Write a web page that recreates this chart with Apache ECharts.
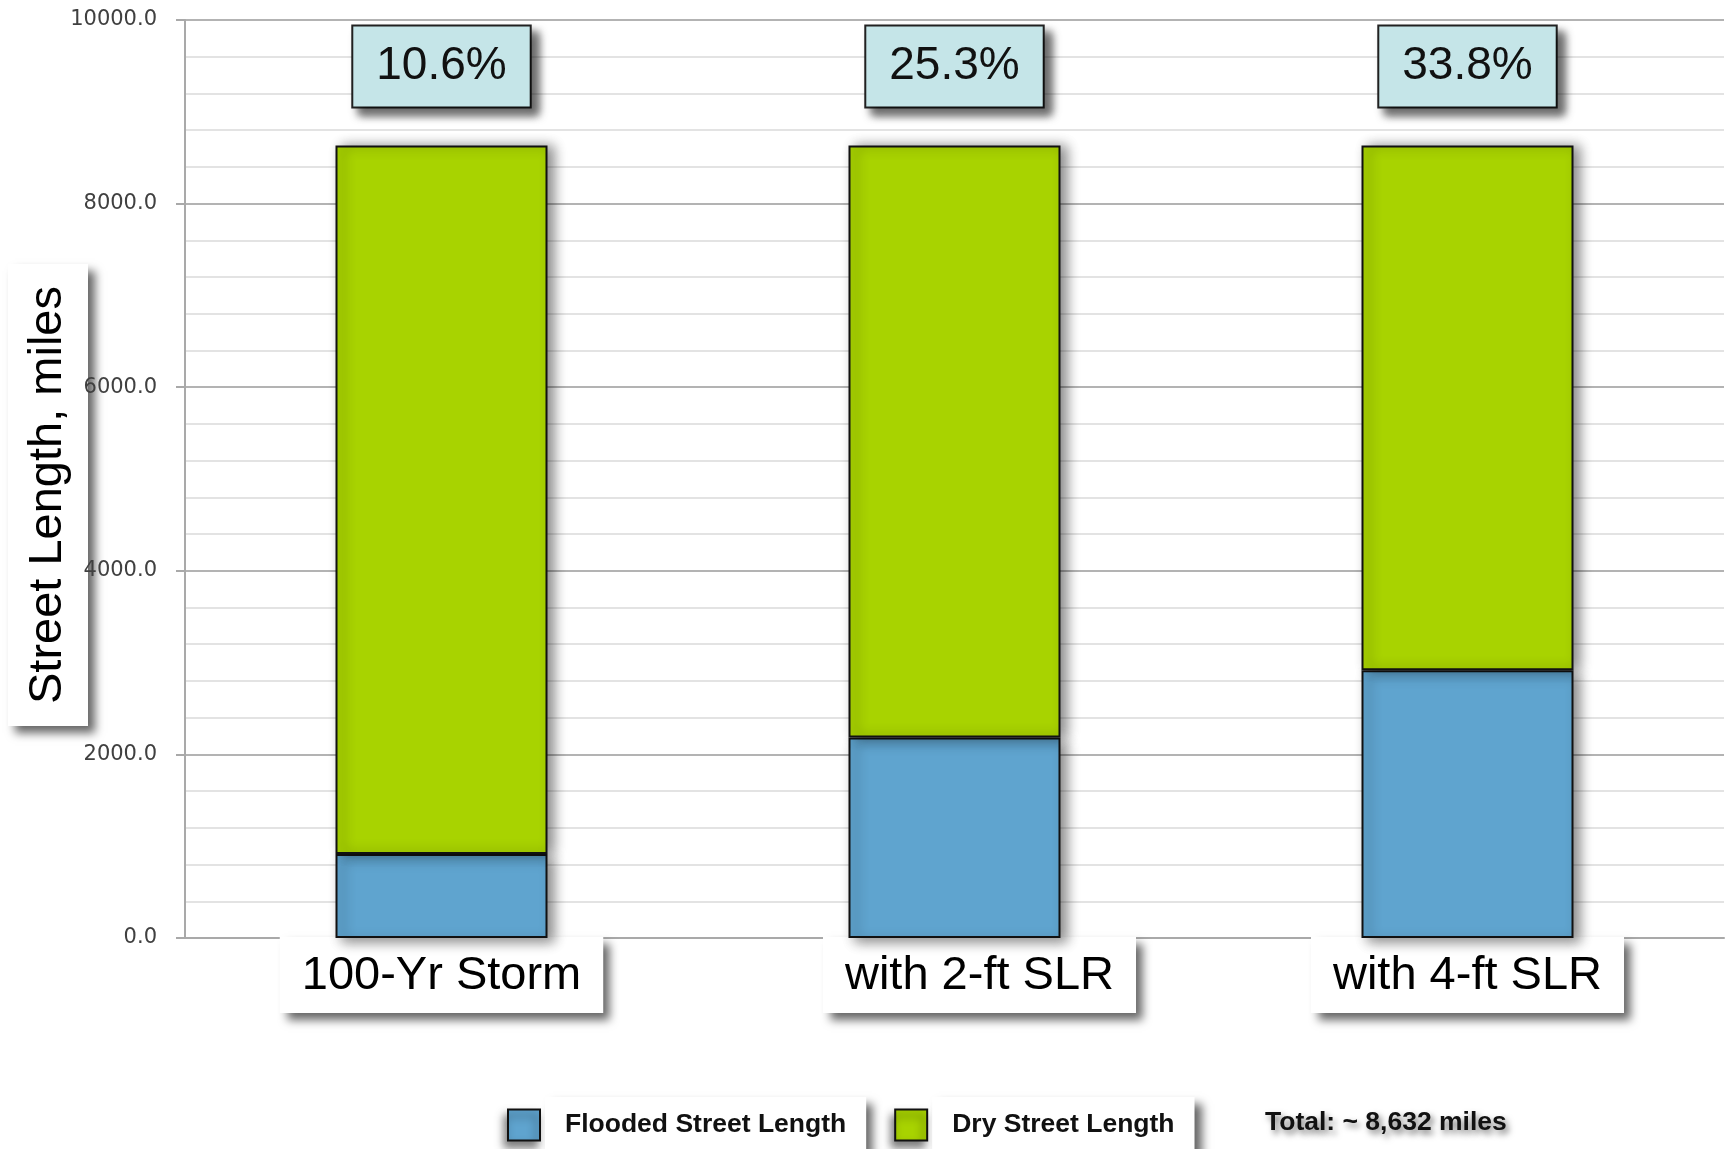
<!DOCTYPE html>
<html>
<head>
<meta charset="utf-8">
<title>Street Length, miles</title>
<script src="https://cdn.jsdelivr.net/npm/echarts@6/dist/echarts.min.js"></script>
<style>
  html, body { margin: 0; padding: 0; background: #ffffff; }
  #chart { width: 1732px; height: 1149px; }
</style>
</head>
<body>
<div id="chart"></div>
<script>
// Scenarios along the x axis
const categories = ['100-Yr Storm', 'with 2-ft SLR', 'with 4-ft SLR'];
// Street length per scenario, miles
const floodedMiles = [915, 2184, 2918];
const dryMiles = [7717, 6448, 5714];
// Value axis range and step
const yMin = 0;
const yMax = 10000;
const yStep = 2000;
const totalNote = 'Total: ~ 8,632 miles';

const BLUE = '#5fa4cf';
const GREEN = '#a8d300';
const SANS = '"Liberation Sans", Arial, Helvetica, sans-serif';
const boxShadow = {
  shadowColor: 'rgba(0,0,0,0.6)',
  shadowBlur: 9,
  shadowOffsetX: 7,
  shadowOffsetY: 7
};

function floodedShare(i) {
  return (100 * floodedMiles[i] / (floodedMiles[i] + dryMiles[i])).toFixed(1) + '%';
}

const chart = echarts.init(document.getElementById('chart'), null, { renderer: 'canvas' });

chart.setOption({
  backgroundColor: '#ffffff',
  animation: false,
  grid: { left: 185, right: 8, top: 20, bottom: 211, outerBoundsMode: 'none', containLabel: false },
  title: {
    text: totalNote,
    left: 1265,
    top: 1109,
    padding: 0,
    textStyle: {
      fontFamily: SANS,
      fontSize: 26.5,
      fontWeight: 'bold',
      color: '#111',
      textShadowColor: 'rgba(0,0,0,0.55)',
      textShadowBlur: 6,
      textShadowOffsetX: 3,
      textShadowOffsetY: 4
    }
  },
  legend: {
    left: 507,
    top: 1097,
    icon: 'rect',
    itemWidth: 32,
    itemHeight: 31,
    itemGap: 28,
    padding: 0,
    selectedMode: false,
    itemStyle: {
      borderColor: '#111',
      borderWidth: 2,
      shadowColor: 'rgba(0,0,0,0.5)',
      shadowBlur: 8,
      shadowOffsetX: -3,
      shadowOffsetY: 6
    },
    textStyle: Object.assign({
      fontFamily: SANS,
      fontSize: 26.5,
      fontWeight: 'bold',
      color: '#111',
      backgroundColor: '#ffffff',
      lineHeight: 32,
      padding: [12, 20, 12, 20]
    }, boxShadow),
    data: ['Flooded Street Length', 'Dry Street Length']
  },
  xAxis: {
    type: 'category',
    data: categories,
    axisLine: { show: true, lineStyle: { color: '#a9a9a9', width: 2 } },
    axisTick: { show: false },
    splitLine: { show: false },
    axisLabel: {
      margin: 9,
      formatter: (v, i) => (i === 1 ? '{gap| }' : '') + '{box|' + v + '}',
      rich: {
        gap: { width: 50 },
        box: Object.assign({
          fontFamily: SANS,
          fontSize: 47,
          lineHeight: 56,
          color: '#000',
          backgroundColor: '#ffffff',
          padding: [16, 22, 13, 22]
        }, boxShadow)
      }
    }
  },
  yAxis: {
    type: 'value',
    min: yMin,
    max: yMax,
    interval: yStep,
    name: '{box|Street Length, miles}{gap| }',
    nameLocation: 'middle',
    nameGap: 110,
    nameMoveOverlap: false,
    nameTextStyle: {
      rich: {
        gap: { width: 32 },
        box: Object.assign({
          fontFamily: SANS,
          fontSize: 47,
          lineHeight: 54,
          color: '#000',
          backgroundColor: '#ffffff',
          padding: [17, 22, 16, 22]
        }, boxShadow)
      }
    },
    axisLine: { show: true, lineStyle: { color: '#a9a9a9', width: 2 } },
    axisTick: { show: true, length: 9, lineStyle: { color: '#a9a9a9', width: 2 } },
    axisLabel: {
      margin: 28,
      fontFamily: '"DejaVu Sans", Verdana, sans-serif',
      fontSize: 21,
      color: '#404040',
      formatter: v => v.toFixed(1)
    },
    splitLine: { show: true, lineStyle: { color: '#b3b3b3', width: 2 } },
    minorTick: { show: false, splitNumber: 5 },
    minorSplitLine: { show: true, lineStyle: { color: '#e3e3e3', width: 2 } }
  },
  series: [
    {
      name: 'Flooded Street Length',
      type: 'bar',
      stack: 'street',
      barWidth: 212,
      data: floodedMiles,
      itemStyle: {
        color: BLUE,
        borderColor: '#111',
        borderWidth: 2,
        shadowColor: 'rgba(0,0,0,0.45)',
        shadowBlur: 12,
        shadowOffsetX: 6,
        shadowOffsetY: 4
      }
    },
    {
      name: 'Dry Street Length',
      type: 'bar',
      stack: 'street',
      barWidth: 212,
      data: dryMiles,
      itemStyle: {
        color: GREEN,
        borderColor: '#111',
        borderWidth: 2,
        shadowColor: 'rgba(0,0,0,0.45)',
        shadowBlur: 12,
        shadowOffsetX: 6,
        shadowOffsetY: 0
      },
      label: Object.assign({
        show: true,
        position: 'top',
        distance: 39,
        fontFamily: SANS,
        fontSize: 46,
        lineHeight: 56,
        color: '#111',
        backgroundColor: '#c5e5e8',
        borderColor: '#222',
        borderWidth: 2,
        padding: [12, 23, 12, 23],
        formatter: p => floodedShare(p.dataIndex)
      }, boxShadow)
    }
  ]
});
</script>
</body>
</html>
